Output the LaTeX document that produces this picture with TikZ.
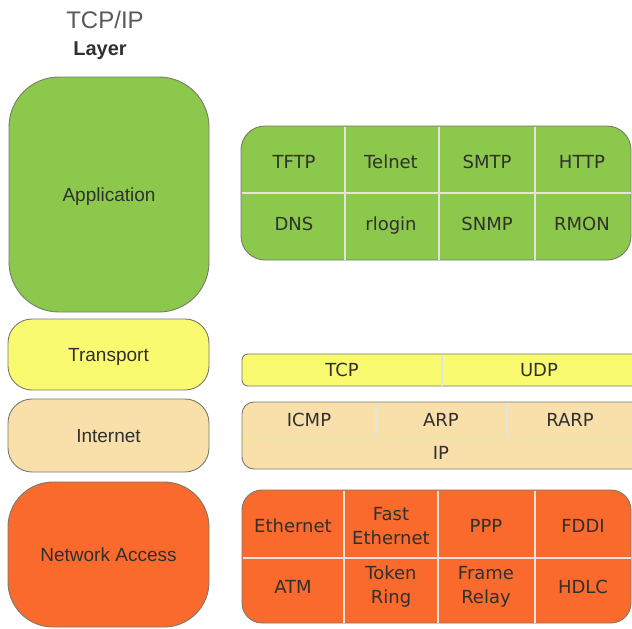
\documentclass[tikz,border=0pt]{standalone}
\usepackage{fontspec}
\setmainfont{Liberation Sans}
\newfontfamily\cellfont{DejaVu Sans}
\definecolor{appgreen}{HTML}{8CC84C}
\definecolor{trnyellow}{HTML}{FAFA70}
\definecolor{inttan}{HTML}{F9E0AA}
\definecolor{netorange}{HTML}{F96A2C}
\definecolor{edge}{HTML}{7A7A6A}
\definecolor{divline}{HTML}{E4E4DC}
\definecolor{ink}{HTML}{303030}
\tikzset{
  layer/.style={draw=edge, line width=0.9pt, text=ink, font=\fontsize{19}{21}\selectfont, inner sep=0pt, text height=13.6pt, text depth=0pt},
  panel/.style={draw=edge, line width=0.9pt},
  divider/.style={draw=divline, line width=1.2pt},
  cell/.style={text=ink, font=\cellfont\fontsize{18}{24}\selectfont, align=center, inner sep=0pt},
  cellone/.style={cell, text height=13pt, text depth=0pt},
}
\begin{document}
\begin{tikzpicture}[x=1pt,y=-1pt]
\useasboundingbox (0,0) rectangle (632,629);
\clip (0,0) rectangle (632,629);
\fill[white] (0,0) rectangle (632,629);

% heading
\node[text=black!65, font=\fontsize{24}{26}\selectfont, inner sep=0pt] (head) at (105,20) {TCP/IP};
\node[text=ink, font=\bfseries\fontsize{20}{22}\selectfont, inner sep=0pt, text height=14.3pt, text depth=0pt] (headsub) at (100,48) {Layer};

% layer column
\node[layer, fill=appgreen, minimum width=200pt, minimum height=235pt, rounded corners=50pt] (app) at (109,194.5) {Application};
\node[layer, fill=trnyellow, minimum width=201pt, minimum height=71pt, rounded corners=24pt] (trn) at (108.5,354.5) {Transport};
\node[layer, fill=inttan, minimum width=201pt, minimum height=73pt, rounded corners=24pt] (int) at (108.5,435.5) {Internet};
\node[layer, fill=netorange, minimum width=201pt, minimum height=145pt, rounded corners=45pt] (net) at (108.5,554.5) {Network Access};

% application protocols
\draw[panel, fill=appgreen, rounded corners=24pt] (241,126) rectangle (631,260);
\draw[divider] (241.5,193) -- (630.5,193);
\draw[divider] (345,126.5) -- (345,259.5);
\draw[divider] (439,126.5) -- (439,259.5);
\draw[divider] (535,126.5) -- (535,259.5);
\node[cellone] (tftp) at (294,162) {TFTP};
\node[cellone] (telnet) at (391,162) {Telnet};
\node[cellone] (smtp) at (487,162) {SMTP};
\node[cellone] (http) at (582,162) {HTTP};
\node[cellone] (dns) at (294,224) {DNS};
\node[cellone] (rlogin) at (391,224) {rlogin};
\node[cellone] (snmp) at (487,224) {SNMP};
\node[cellone] (rmon) at (582,224) {RMON};

% transport protocols
\draw[panel, fill=trnyellow, rounded corners=6pt] (242,354) rectangle (660,386);
\draw[divider] (442,354.5) -- (442,385.5);
\node[cellone] (tcp) at (342,370) {TCP};
\node[cellone] (udp) at (539,370) {UDP};

% internet protocols
\draw[panel, fill=inttan, rounded corners=12pt] (242,402) rectangle (660,469);
\draw[divider] (242.5,437.5) -- (659.5,437.5);
\draw[divider] (376,402.5) -- (376,437.5);
\draw[divider] (507,402.5) -- (507,437.5);
\node[cellone] (icmp) at (309,420) {ICMP};
\node[cellone] (arp) at (441,420) {ARP};
\node[cellone] (rarp) at (570,420) {RARP};
\node[cellone] (ip) at (441,453) {IP};

% network access protocols
\draw[panel, fill=netorange, rounded corners=20pt] (242,490) rectangle (631,623);
\draw[divider] (242.5,558) -- (630.5,558);
\draw[divider] (344,490.5) -- (344,622.5);
\draw[divider] (438,490.5) -- (438,622.5);
\draw[divider] (535,490.5) -- (535,622.5);
\node[cellone] (eth) at (293,526) {Ethernet};
\node[cell] (feth) at (391,526) {Fast\\Ethernet};
\node[cellone] (ppp) at (486,526) {PPP};
\node[cellone] (fddi) at (583,526) {FDDI};
\node[cellone] (atm) at (293,587) {ATM};
\node[cell] (token) at (391,587) {Token\\Ring};
\node[cell] (frame) at (486,587) {Frame\\Relay};
\node[cellone] (hdlc) at (583,587) {HDLC};
\end{tikzpicture}
\end{document}
